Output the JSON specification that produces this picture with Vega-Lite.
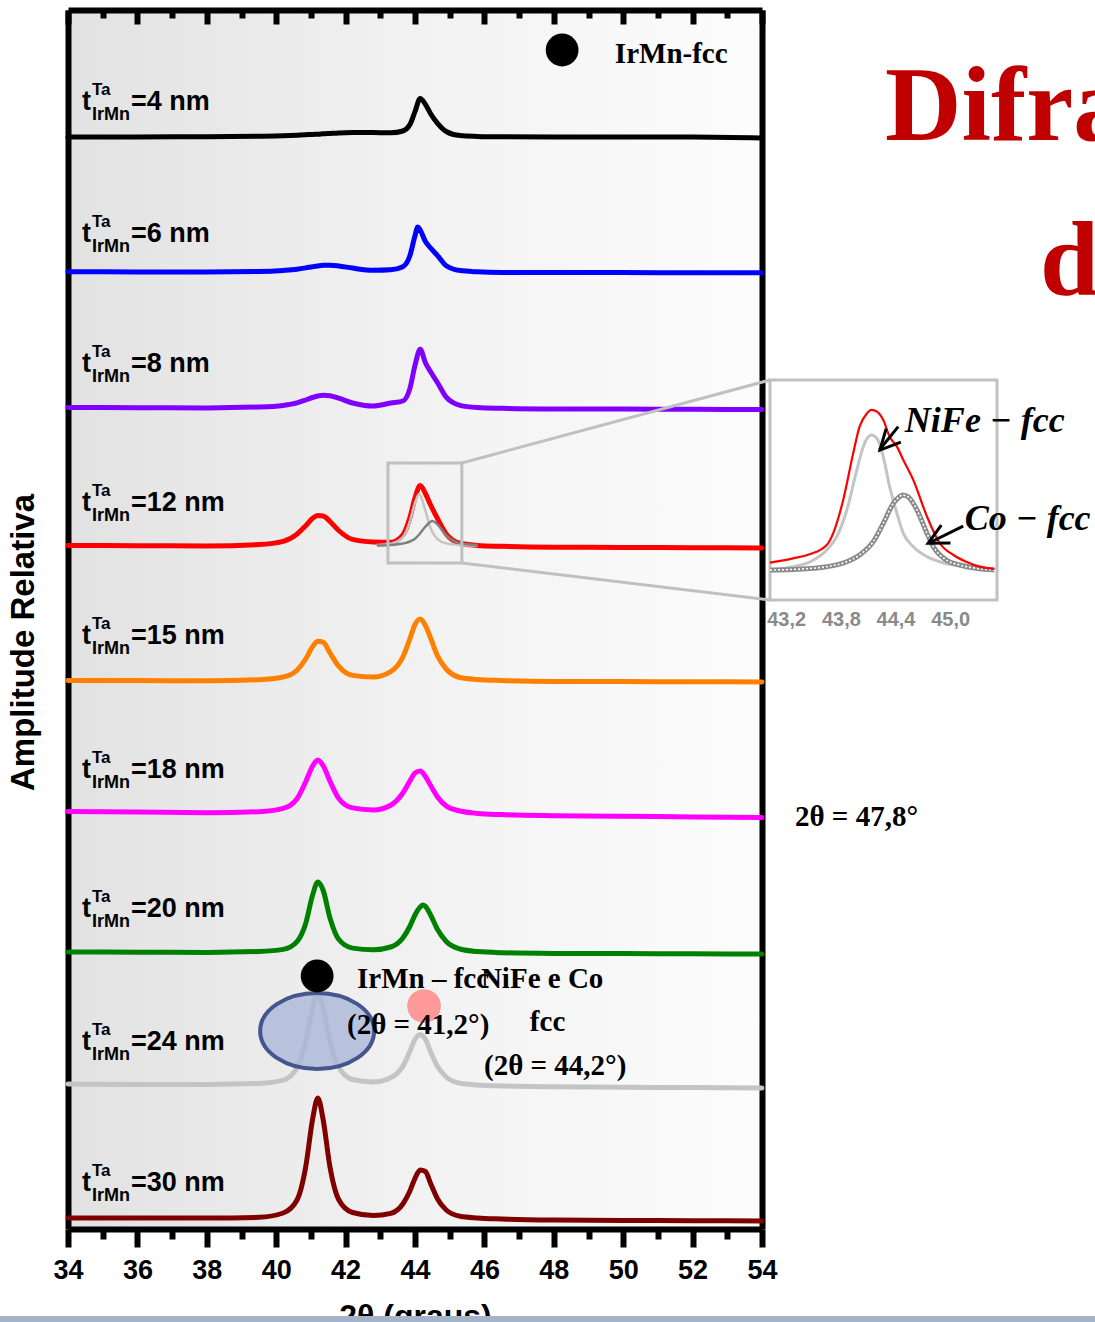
{
  "$schema": "https://vega.github.io/schema/vega-lite/v6.json",
  "width": 694,
  "height": 1219,
  "autosize": {"type": "none"},
  "padding": {"left": 68, "top": 10, "right": 333, "bottom": 93},
  "background": "#ffffff",
  "config": {
    "view": {"stroke": null, "fill": {"gradient": "linear", "x1": 0, "y1": 0, "x2": 1, "y2": 0, "stops": [{"offset": 0, "color": "#e2e2e2"}, {"offset": 0.55, "color": "#f3f3f3"}, {"offset": 1, "color": "#fcfcfc"}]}},
    "axis": {"grid": false}
  },
  "datasets": {
    "curves": [
      {"s":"4","x":34,"y":109.2},{"s":"4","x":36,"y":109.21},{"s":"4","x":38,"y":109.22},{"s":"4","x":39.5,"y":109.27},{"s":"4","x":40.2,"y":109.32},{"s":"4","x":40.6,"y":109.38},{"s":"4","x":40.85,"y":109.42},{"s":"4","x":41.05,"y":109.46},{"s":"4","x":41.2,"y":109.48},{"s":"4","x":41.35,"y":109.52},{"s":"4","x":41.55,"y":109.56},{"s":"4","x":41.8,"y":109.61},{"s":"4","x":42.2,"y":109.65},{"s":"4","x":42.8,"y":109.64},{"s":"4","x":43.3,"y":109.62},{"s":"4","x":43.65,"y":109.8},{"s":"4","x":43.85,"y":110.42},{"s":"4","x":44.0,"y":111.74},{"s":"4","x":44.15,"y":113.06},{"s":"4","x":44.3,"y":112.47},{"s":"4","x":44.45,"y":111.53},{"s":"4","x":44.65,"y":110.57},{"s":"4","x":44.9,"y":109.75},{"s":"4","x":45.3,"y":109.34},{"s":"4","x":45.8,"y":109.26},{"s":"4","x":46.5,"y":109.22},{"s":"4","x":48,"y":109.2},{"s":"4","x":50,"y":109.2},{"s":"4","x":52,"y":109.2},{"s":"4","x":54,"y":109.1},
      {"s":"6","x":34,"y":95.72},{"s":"6","x":36,"y":95.71},{"s":"6","x":38,"y":95.7},{"s":"6","x":39.5,"y":95.75},{"s":"6","x":40.2,"y":95.86},{"s":"6","x":40.6,"y":95.98},{"s":"6","x":40.85,"y":96.11},{"s":"6","x":41.05,"y":96.23},{"s":"6","x":41.2,"y":96.31},{"s":"6","x":41.35,"y":96.37},{"s":"6","x":41.55,"y":96.38},{"s":"6","x":41.8,"y":96.31},{"s":"6","x":42.2,"y":96.09},{"s":"6","x":42.8,"y":95.87},{"s":"6","x":43.3,"y":95.92},{"s":"6","x":43.65,"y":96.23},{"s":"6","x":43.85,"y":97.3},{"s":"6","x":44.0,"y":99.32},{"s":"6","x":44.08,"y":100.2},{"s":"6","x":44.15,"y":99.9},{"s":"6","x":44.3,"y":98.75},{"s":"6","x":44.45,"y":98.1},{"s":"6","x":44.65,"y":97.34},{"s":"6","x":44.9,"y":96.33},{"s":"6","x":45.3,"y":95.84},{"s":"6","x":45.8,"y":95.72},{"s":"6","x":46.5,"y":95.66},{"s":"6","x":48,"y":95.65},{"s":"6","x":50,"y":95.64},{"s":"6","x":52,"y":95.63},{"s":"6","x":54,"y":95.62},
      {"s":"8","x":34,"y":82.15},{"s":"8","x":36,"y":82.13},{"s":"8","x":38,"y":82.11},{"s":"8","x":39.5,"y":82.2},{"s":"8","x":40.2,"y":82.36},{"s":"8","x":40.6,"y":82.61},{"s":"8","x":40.85,"y":82.9},{"s":"8","x":41.05,"y":83.15},{"s":"8","x":41.2,"y":83.3},{"s":"8","x":41.35,"y":83.38},{"s":"8","x":41.55,"y":83.33},{"s":"8","x":41.8,"y":83.08},{"s":"8","x":42.2,"y":82.6},{"s":"8","x":42.8,"y":82.3},{"s":"8","x":43.3,"y":82.6},{"s":"8","x":43.65,"y":82.8},{"s":"8","x":43.85,"y":84.01},{"s":"8","x":44.0,"y":86.36},{"s":"8","x":44.15,"y":87.97},{"s":"8","x":44.3,"y":86.63},{"s":"8","x":44.45,"y":85.72},{"s":"8","x":44.65,"y":84.63},{"s":"8","x":44.9,"y":83.19},{"s":"8","x":45.3,"y":82.37},{"s":"8","x":45.8,"y":82.15},{"s":"8","x":46.5,"y":82.07},{"s":"8","x":48,"y":82.01},{"s":"8","x":50,"y":81.99},{"s":"8","x":52,"y":81.97},{"s":"8","x":54,"y":81.95},
      {"s":"12","x":34,"y":68.35},{"s":"12","x":36,"y":68.33},{"s":"12","x":38,"y":68.3},{"s":"12","x":39.5,"y":68.44},{"s":"12","x":40.2,"y":68.77},{"s":"12","x":40.6,"y":69.49},{"s":"12","x":40.85,"y":70.33},{"s":"12","x":41.05,"y":71.07},{"s":"12","x":41.2,"y":71.34},{"s":"12","x":41.35,"y":71.31},{"s":"12","x":41.55,"y":70.75},{"s":"12","x":41.8,"y":69.85},{"s":"12","x":42.2,"y":68.96},{"s":"12","x":42.8,"y":68.7},{"s":"12","x":43.3,"y":68.67},{"s":"12","x":43.65,"y":69.4},{"s":"12","x":43.85,"y":71.1},{"s":"12","x":44.0,"y":73.1},{"s":"12","x":44.15,"y":74.35},{"s":"12","x":44.3,"y":73.55},{"s":"12","x":44.45,"y":72.4},{"s":"12","x":44.65,"y":71.03},{"s":"12","x":44.9,"y":69.5},{"s":"12","x":45.3,"y":68.57},{"s":"12","x":45.8,"y":68.36},{"s":"12","x":46.5,"y":68.27},{"s":"12","x":48,"y":68.18},{"s":"12","x":50,"y":68.16},{"s":"12","x":52,"y":68.13},{"s":"12","x":54,"y":68.11},
      {"s":"15","x":34,"y":54.85},{"s":"15","x":36,"y":54.84},{"s":"15","x":38,"y":54.82},{"s":"15","x":39.5,"y":54.93},{"s":"15","x":40.2,"y":55.2},{"s":"15","x":40.6,"y":55.88},{"s":"15","x":40.85,"y":57.0},{"s":"15","x":41.05,"y":58.24},{"s":"15","x":41.2,"y":58.77},{"s":"15","x":41.35,"y":58.68},{"s":"15","x":41.55,"y":57.6},{"s":"15","x":41.8,"y":56.28},{"s":"15","x":42.2,"y":55.36},{"s":"15","x":42.8,"y":55.2},{"s":"15","x":43.3,"y":55.74},{"s":"15","x":43.65,"y":57.2},{"s":"15","x":43.85,"y":59.0},{"s":"15","x":44.0,"y":60.45},{"s":"15","x":44.15,"y":61.0},{"s":"15","x":44.3,"y":60.35},{"s":"15","x":44.45,"y":59.1},{"s":"15","x":44.65,"y":57.3},{"s":"15","x":44.9,"y":56.0},{"s":"15","x":45.3,"y":55.15},{"s":"15","x":45.8,"y":54.95},{"s":"15","x":46.5,"y":54.85},{"s":"15","x":48,"y":54.75},{"s":"15","x":50,"y":54.74},{"s":"15","x":52,"y":54.72},{"s":"15","x":54,"y":54.71},
      {"s":"18","x":34,"y":41.75},{"s":"18","x":36,"y":41.69},{"s":"18","x":38,"y":41.63},{"s":"18","x":39.5,"y":41.73},{"s":"18","x":40.2,"y":42.06},{"s":"18","x":40.6,"y":43.03},{"s":"18","x":40.85,"y":44.72},{"s":"18","x":41.05,"y":46.3},{"s":"18","x":41.2,"y":46.9},{"s":"18","x":41.35,"y":46.35},{"s":"18","x":41.55,"y":44.78},{"s":"18","x":41.8,"y":43.06},{"s":"18","x":42.2,"y":42.11},{"s":"18","x":42.8,"y":41.9},{"s":"18","x":43.3,"y":42.38},{"s":"18","x":43.65,"y":43.6},{"s":"18","x":43.85,"y":44.79},{"s":"18","x":44.0,"y":45.6},{"s":"18","x":44.15,"y":45.8},{"s":"18","x":44.3,"y":45.25},{"s":"18","x":44.45,"y":44.35},{"s":"18","x":44.65,"y":43.2},{"s":"18","x":44.9,"y":42.3},{"s":"18","x":45.3,"y":41.8},{"s":"18","x":45.8,"y":41.56},{"s":"18","x":46.5,"y":41.44},{"s":"18","x":48,"y":41.33},{"s":"18","x":50,"y":41.27},{"s":"18","x":52,"y":41.21},{"s":"18","x":54,"y":41.15},
      {"s":"20","x":34,"y":27.7},{"s":"20","x":36,"y":27.68},{"s":"20","x":38,"y":27.66},{"s":"20","x":39.5,"y":27.75},{"s":"20","x":40.2,"y":27.96},{"s":"20","x":40.6,"y":28.74},{"s":"20","x":40.85,"y":30.55},{"s":"20","x":41.05,"y":33.4},{"s":"20","x":41.2,"y":34.7},{"s":"20","x":41.35,"y":33.9},{"s":"20","x":41.55,"y":31.1},{"s":"20","x":41.8,"y":28.97},{"s":"20","x":42.2,"y":28.09},{"s":"20","x":42.8,"y":27.93},{"s":"20","x":43.3,"y":28.2},{"s":"20","x":43.65,"y":29.1},{"s":"20","x":43.85,"y":30.25},{"s":"20","x":44.0,"y":31.4},{"s":"20","x":44.15,"y":32.2},{"s":"20","x":44.23,"y":32.4},{"s":"20","x":44.3,"y":32.27},{"s":"20","x":44.45,"y":31.4},{"s":"20","x":44.65,"y":29.95},{"s":"20","x":44.9,"y":28.75},{"s":"20","x":45.3,"y":28.0},{"s":"20","x":45.8,"y":27.74},{"s":"20","x":46.5,"y":27.63},{"s":"20","x":48,"y":27.56},{"s":"20","x":50,"y":27.54},{"s":"20","x":52,"y":27.52},{"s":"20","x":54,"y":27.5},
      {"s":"24","x":34,"y":14.5},{"s":"24","x":36,"y":14.46},{"s":"24","x":38,"y":14.46},{"s":"24","x":39.5,"y":14.55},{"s":"24","x":40.2,"y":14.88},{"s":"24","x":40.6,"y":16.12},{"s":"24","x":40.85,"y":18.67},{"s":"24","x":41.05,"y":22.17},{"s":"24","x":41.2,"y":23.56},{"s":"24","x":41.35,"y":22.17},{"s":"24","x":41.55,"y":18.7},{"s":"24","x":41.8,"y":16.2},{"s":"24","x":42.2,"y":14.95},{"s":"24","x":42.8,"y":14.71},{"s":"24","x":43.3,"y":15.13},{"s":"24","x":43.65,"y":16.28},{"s":"24","x":43.85,"y":17.74},{"s":"24","x":44.0,"y":18.97},{"s":"24","x":44.15,"y":19.46},{"s":"24","x":44.3,"y":18.97},{"s":"24","x":44.45,"y":17.73},{"s":"24","x":44.65,"y":16.25},{"s":"24","x":44.9,"y":15.2},{"s":"24","x":45.3,"y":14.57},{"s":"24","x":45.8,"y":14.41},{"s":"24","x":46.5,"y":14.31},{"s":"24","x":48,"y":14.22},{"s":"24","x":50,"y":14.18},{"s":"24","x":52,"y":14.14},{"s":"24","x":54,"y":14.1},
      {"s":"30","x":34,"y":1.1},{"s":"30","x":36,"y":1.11},{"s":"30","x":38,"y":1.09},{"s":"30","x":39.5,"y":1.17},{"s":"30","x":40.2,"y":1.6},{"s":"30","x":40.6,"y":2.9},{"s":"30","x":40.85,"y":6.2},{"s":"30","x":41.05,"y":11.0},{"s":"30","x":41.2,"y":13.1},{"s":"30","x":41.35,"y":11.0},{"s":"30","x":41.55,"y":6.2},{"s":"30","x":41.8,"y":2.95},{"s":"30","x":42.2,"y":1.65},{"s":"30","x":42.8,"y":1.35},{"s":"30","x":43.3,"y":1.56},{"s":"30","x":43.65,"y":2.5},{"s":"30","x":43.85,"y":3.77},{"s":"30","x":44.0,"y":5.07},{"s":"30","x":44.15,"y":5.9},{"s":"30","x":44.3,"y":5.75},{"s":"30","x":44.45,"y":4.55},{"s":"30","x":44.65,"y":3.0},{"s":"30","x":44.9,"y":1.9},{"s":"30","x":45.3,"y":1.27},{"s":"30","x":45.8,"y":1.1},{"s":"30","x":46.5,"y":1.0},{"s":"30","x":48,"y":0.9},{"s":"30","x":50,"y":0.86},{"s":"30","x":52,"y":0.83},{"s":"30","x":54,"y":0.8}
    ],
    "fits": [
      {"c":"NiFe","x":42.9,"y":68.4},{"c":"NiFe","x":43.3,"y":68.53},{"c":"NiFe","x":43.65,"y":69.18},{"c":"NiFe","x":43.85,"y":70.74},{"c":"NiFe","x":44.0,"y":72.62},{"c":"NiFe","x":44.12,"y":73.5},{"c":"NiFe","x":44.3,"y":71.84},{"c":"NiFe","x":44.45,"y":70.07},{"c":"NiFe","x":44.65,"y":68.98},{"c":"NiFe","x":44.9,"y":68.56},{"c":"NiFe","x":45.3,"y":68.4},{"c":"NiFe","x":45.8,"y":68.35},
      {"c":"Co","x":42.9,"y":68.35},{"c":"Co","x":43.3,"y":68.4},{"c":"Co","x":43.65,"y":68.55},{"c":"Co","x":43.85,"y":68.75},{"c":"Co","x":44.0,"y":69.03},{"c":"Co","x":44.12,"y":69.45},{"c":"Co","x":44.3,"y":70.23},{"c":"Co","x":44.5,"y":70.8},{"c":"Co","x":44.65,"y":70.45},{"c":"Co","x":44.9,"y":69.35},{"c":"Co","x":45.3,"y":68.57},{"c":"Co","x":45.8,"y":68.39}
    ],
    "labels": [
      {"lab":"=4 nm","ly":111.9},{"lab":"=6 nm","ly":98.7},{"lab":"=8 nm","ly":85.7},{"lab":"=12 nm","ly":71.8},{"lab":"=15 nm","ly":58.5},{"lab":"=18 nm","ly":45.1},{"lab":"=20 nm","ly":31.2},{"lab":"=24 nm","ly":17.9},{"lab":"=30 nm","ly":3.8}
    ],
    "connectors": [
      {"x":45.35,"y":76.6,"x2":54.23,"y2":84.9},{"x":45.35,"y":66.6,"x2":54.23,"y2":62.9}
    ],
    "dots": [{"x":48.24,"y":117.9},{"x":41.18,"y":25.3}],
    "notes": [
      {"txt":"IrMn-fcc","x":49.76,"y":116.6},
      {"txt":"IrMn – fcc","x":42.33,"y":24.1},
      {"txt":"NiFe e Co","x":45.9,"y":24.1},
      {"txt":"(2θ = 41,2°)","x":42.04,"y":19.5},
      {"txt":"fcc","x":47.31,"y":19.8},
      {"txt":"(2θ = 44,2°)","x":45.99,"y":15.4},
      {"txt":"2θ = 47,8°","x":54.95,"y":40.3}
    ],
    "titles": [
      {"txt":"Difração","x":57.545,"y":108.9},
      {"txt":"de","x":62.01,"y":93.4}
    ],
    "ired": [
      {"x":43.017,"y":16.97},{"x":43.27,"y":18.94},{"x":43.46,"y":20.9},{"x":43.64,"y":25.0},{"x":43.71,"y":30.3},{"x":43.82,"y":45.45},{"x":43.93,"y":66.7},{"x":44.0,"y":78.8},{"x":44.08,"y":84.8},{"x":44.13,"y":86.4},{"x":44.19,"y":85.6},{"x":44.26,"y":81.8},{"x":44.33,"y":74.2},{"x":44.41,"y":69.7},{"x":44.48,"y":63.6},{"x":44.59,"y":54.5},{"x":44.74,"y":37.9},{"x":44.88,"y":25.8},{"x":45.03,"y":20.45},{"x":45.17,"y":17.4},{"x":45.32,"y":15.15},{"x":45.48,"y":14.1}
    ],
    "inife": [
      {"x":43.017,"y":13.6},{"x":43.27,"y":15.15},{"x":43.46,"y":17.4},{"x":43.64,"y":22.7},{"x":43.75,"y":28.8},{"x":43.86,"y":40.9},{"x":43.97,"y":59.1},{"x":44.04,"y":69.7},{"x":44.13,"y":75.0},{"x":44.19,"y":73.5},{"x":44.26,"y":65.2},{"x":44.33,"y":51.5},{"x":44.41,"y":39.4},{"x":44.48,"y":30.3},{"x":44.59,"y":24.2},{"x":44.74,"y":19.7},{"x":44.88,"y":17.4},{"x":45.03,"y":15.9},{"x":45.25,"y":14.8},{"x":45.48,"y":14.1}
    ],
    "ico": [
      {"x":43.017,"y":13.6},{"x":43.27,"y":13.9},{"x":43.64,"y":15.15},{"x":43.86,"y":17.4},{"x":44.0,"y":20.45},{"x":44.15,"y":26.5},{"x":44.26,"y":34.8},{"x":44.37,"y":43.9},{"x":44.44,"y":47.0},{"x":44.47,"y":47.7},{"x":44.53,"y":47.0},{"x":44.63,"y":40.9},{"x":44.74,"y":30.3},{"x":44.81,"y":24.2},{"x":44.95,"y":18.2},{"x":45.1,"y":15.9},{"x":45.28,"y":14.4},{"x":45.48,"y":13.6}
    ],
    "iticks": [
      {"v":43.2,"lab":"43,2"},{"v":43.8,"lab":"43,8"},{"v":44.4,"lab":"44,4"},{"v":45.0,"lab":"45,0"}
    ],
    "arrows": [
      {"x":44.424,"y":78.8,"x2":44.217,"y2":68.2},{"x":45.137,"y":33.6,"x2":44.755,"y2":25.8}
    ]
  },
  "layer": [
    {
      "layer": [
        {
          "data": {"name": "curves"},
          "mark": {"type": "line", "strokeWidth": 5, "interpolate": "monotone", "strokeCap": "round", "strokeJoin": "round"},
          "encoding": {
            "x": {"field": "x", "type": "quantitative", "scale": {"domain": [34, 54], "nice": false, "zero": false},
              "axis": {"orient": "bottom", "values": [34,36,38,40,42,44,46,48,50,52,54], "tickSize": 18, "tickWidth": 6, "tickColor": "#000000", "domainWidth": 6, "domainColor": "#000000", "labelFont": "Liberation Sans", "labelFontWeight": "bold", "labelFontSize": 27, "labelColor": "#000000", "labelPadding": 10, "labelFlush": false, "labelOverlap": false, "title": "2θ (graus)", "titleFont": "Liberation Sans", "titleFontWeight": "bold", "titleFontSize": 32, "titleColor": "#000000", "titlePadding": 18}},
            "y": {"field": "y", "type": "quantitative", "scale": {"domain": [0, 121.9], "nice": false, "zero": false},
              "axis": {"orient": "left", "ticks": false, "labels": false, "domainWidth": 6, "domainColor": "#000000", "title": "Amplitude Relativa", "titleFont": "Liberation Sans", "titleFontWeight": "bold", "titleFontSize": 33, "titleColor": "#000000", "titlePadding": 28, "titleY": 632}},
            "color": {"field": "s", "type": "nominal", "scale": {"domain": ["4","6","8","12","15","18","20","24","30"], "range": ["#000000","#0000ff","#8000ff","#ff0000","#ff8000","#ff00ff","#008000","#c4c4c4","#800000"]}, "legend": null}
          }
        },
        {
          "data": {"name": "fits"},
          "mark": {"type": "line", "strokeWidth": 2.5, "interpolate": "monotone"},
          "encoding": {
            "x": {"field": "x", "type": "quantitative", "scale": {"domain": [34, 54], "nice": false, "zero": false},
              "axis": {"orient": "top", "values": [34,36,38,40,42,44,46,48,50,52,54], "tickSize": -14, "tickWidth": 6, "tickColor": "#000000", "domainWidth": 6, "domainColor": "#000000", "labels": false, "title": null}},
            "y": {"field": "y", "type": "quantitative", "scale": {"domain": [0, 121.9], "nice": false, "zero": false},
              "axis": {"orient": "right", "ticks": false, "labels": false, "domainWidth": 6, "domainColor": "#000000", "title": null}},
            "color": {"field": "c", "type": "nominal", "scale": {"domain": ["NiFe","Co"], "range": ["#c4c4c4","#808080"]}, "legend": null}
          }
        },
        {
          "data": {"values": [{}]},
          "mark": {"type": "rect", "fillOpacity": 0, "fill": "#ffffff", "stroke": "#c0c0c0", "strokeWidth": 3},
          "encoding": {
            "x": {"datum": 43.22, "type": "quantitative", "scale": {"domain": [34, 54], "nice": false, "zero": false}, "axis": null},
            "x2": {"datum": 45.35},
            "y": {"datum": 76.6, "type": "quantitative", "scale": {"domain": [0, 121.9], "nice": false, "zero": false}, "axis": null},
            "y2": {"datum": 66.6}
          }
        },
        {
          "data": {"name": "connectors"},
          "mark": {"type": "rule", "stroke": "#c0c0c0", "strokeWidth": 3},
          "encoding": {
            "x": {"field": "x", "type": "quantitative", "scale": {"domain": [34, 54], "nice": false, "zero": false},
              "axis": {"orient": "bottom", "values": [35,37,39,41,43,45,47,49,51,53], "tickSize": 10, "tickWidth": 6, "tickColor": "#000000", "domain": false, "labels": false, "title": null}},
            "x2": {"field": "x2"},
            "y": {"field": "y", "type": "quantitative", "scale": {"domain": [0, 121.9], "nice": false, "zero": false}, "axis": null},
            "y2": {"field": "y2"}
          }
        },
        {
          "data": {"values": [{}]},
          "mark": {"type": "point", "shape": "M-1,0A1,0.667,0,1,0,1,0A1,0.667,0,1,0,-1,0Z", "size": 12996, "filled": true, "fill": "#a9b6d8", "fillOpacity": 0.78, "stroke": "#44558f", "strokeWidth": 4, "strokeOpacity": 1},
          "encoding": {
            "x": {"datum": 41.18, "type": "quantitative", "scale": {"domain": [34, 54], "nice": false, "zero": false}, "axis": null},
            "y": {"datum": 19.8, "type": "quantitative", "scale": {"domain": [0, 121.9], "nice": false, "zero": false}, "axis": null}
          }
        },
        {
          "data": {"values": [{}]},
          "mark": {"type": "point", "shape": "circle", "size": 1134, "filled": true, "fill": "#ff8f8f", "opacity": 0.9, "strokeWidth": 0},
          "encoding": {
            "x": {"datum": 44.26, "type": "quantitative", "scale": {"domain": [34, 54], "nice": false, "zero": false}, "axis": null},
            "y": {"datum": 22.3, "type": "quantitative", "scale": {"domain": [0, 121.9], "nice": false, "zero": false}, "axis": null}
          }
        },
        {
          "data": {"name": "dots"},
          "mark": {"type": "point", "shape": "circle", "size": 1075, "filled": true, "fill": "#000000", "opacity": 1, "strokeWidth": 0},
          "encoding": {
            "x": {"field": "x", "type": "quantitative", "scale": {"domain": [34, 54], "nice": false, "zero": false}, "axis": null},
            "y": {"field": "y", "type": "quantitative", "scale": {"domain": [0, 121.9], "nice": false, "zero": false}, "axis": null}
          }
        },
        {
          "data": {"name": "notes"},
          "mark": {"type": "text", "align": "left", "baseline": "alphabetic", "font": "Liberation Serif", "fontWeight": "bold", "fontSize": 29, "color": "#000000"},
          "encoding": {
            "x": {"field": "x", "type": "quantitative", "scale": {"domain": [34, 54], "nice": false, "zero": false},
              "axis": {"orient": "top", "values": [35,37,39,41,43,45,47,49,51,53], "tickSize": -8, "tickWidth": 6, "tickColor": "#000000", "domain": false, "labels": false, "title": null}},
            "y": {"field": "y", "type": "quantitative", "scale": {"domain": [0, 121.9], "nice": false, "zero": false}, "axis": null},
            "text": {"field": "txt"}
          }
        },
        {
          "data": {"name": "titles"},
          "mark": {"type": "text", "align": "left", "baseline": "alphabetic", "font": "Liberation Serif", "fontWeight": "bold", "fontSize": 106, "color": "#c00000"},
          "encoding": {
            "x": {"field": "x", "type": "quantitative", "scale": {"domain": [34, 54], "nice": false, "zero": false}, "axis": null},
            "y": {"field": "y", "type": "quantitative", "scale": {"domain": [0, 121.9], "nice": false, "zero": false}, "axis": null},
            "text": {"field": "txt"}
          }
        },
        {
          "data": {"name": "labels"},
          "mark": {"type": "text", "text": "t", "align": "left", "baseline": "alphabetic", "font": "Liberation Sans", "fontWeight": "bold", "fontSize": 27, "color": "#000000"},
          "encoding": {
            "x": {"datum": 34.4, "type": "quantitative", "scale": {"domain": [34, 54], "nice": false, "zero": false}, "axis": null},
            "y": {"field": "ly", "type": "quantitative", "scale": {"domain": [0, 121.9], "nice": false, "zero": false}, "axis": null}
          }
        },
        {
          "data": {"name": "labels"},
          "mark": {"type": "text", "text": "Ta", "align": "left", "baseline": "alphabetic", "font": "Liberation Sans", "fontWeight": "bold", "fontSize": 17, "dx": 10, "dy": -15, "color": "#000000"},
          "encoding": {
            "x": {"datum": 34.4, "type": "quantitative", "scale": {"domain": [34, 54], "nice": false, "zero": false}, "axis": null},
            "y": {"field": "ly", "type": "quantitative", "scale": {"domain": [0, 121.9], "nice": false, "zero": false}, "axis": null}
          }
        },
        {
          "data": {"name": "labels"},
          "mark": {"type": "text", "text": "IrMn", "align": "left", "baseline": "alphabetic", "font": "Liberation Sans", "fontWeight": "bold", "fontSize": 18, "dx": 10, "dy": 10, "color": "#000000"},
          "encoding": {
            "x": {"datum": 34.4, "type": "quantitative", "scale": {"domain": [34, 54], "nice": false, "zero": false}, "axis": null},
            "y": {"field": "ly", "type": "quantitative", "scale": {"domain": [0, 121.9], "nice": false, "zero": false}, "axis": null}
          }
        },
        {
          "data": {"name": "labels"},
          "mark": {"type": "text", "align": "left", "baseline": "alphabetic", "font": "Liberation Sans", "fontWeight": "bold", "fontSize": 27, "dx": 49, "color": "#000000"},
          "encoding": {
            "x": {"datum": 34.4, "type": "quantitative", "scale": {"domain": [34, 54], "nice": false, "zero": false}, "axis": null},
            "y": {"field": "ly", "type": "quantitative", "scale": {"domain": [0, 121.9], "nice": false, "zero": false}, "axis": null},
            "text": {"field": "lab"}
          }
        },
        {
          "data": {"values": [{}]},
          "mark": {"type": "rect", "fill": "#a3b3c9"},
          "encoding": {
            "x": {"datum": 32.0, "type": "quantitative", "scale": {"domain": [34, 54], "nice": false, "zero": false}, "axis": null},
            "x2": {"datum": 63.7},
            "y": {"datum": -8.7, "type": "quantitative", "scale": {"domain": [0, 121.9], "nice": false, "zero": false}, "axis": null},
            "y2": {"datum": -9.6}
          }
        }
      ],
      "resolve": {"axis": {"x": "independent", "y": "independent"}, "scale": {"color": "independent"}}
    },
    {
      "layer": [
        {
          "data": {"values": [{}]},
          "mark": {"type": "rect", "fillOpacity": 0, "fill": "#ffffff", "stroke": "#c0c0c0", "strokeWidth": 3},
          "encoding": {
            "x": {"datum": 43.017, "type": "quantitative", "scale": {"domain": [43.017, 45.508], "range": [702, 929], "nice": false, "zero": false}, "axis": null},
            "x2": {"datum": 45.508},
            "y": {"datum": 0, "type": "quantitative", "scale": {"domain": [0, 100], "range": [590, 370], "nice": false, "zero": false}, "axis": null},
            "y2": {"datum": 100}
          }
        },
        {
          "data": {"name": "inife"},
          "mark": {"type": "line", "stroke": "#c4c4c4", "strokeWidth": 3, "interpolate": "monotone"},
          "encoding": {
            "x": {"field": "x", "type": "quantitative", "scale": {"domain": [43.017, 45.508], "range": [702, 929], "nice": false, "zero": false}, "axis": null},
            "y": {"field": "y", "type": "quantitative", "scale": {"domain": [0, 100], "range": [590, 370], "nice": false, "zero": false}, "axis": null}
          }
        },
        {
          "data": {"name": "ico"},
          "mark": {"type": "line", "stroke": "#8a8a8a", "strokeWidth": 5, "interpolate": "monotone"},
          "encoding": {
            "x": {"field": "x", "type": "quantitative", "scale": {"domain": [43.017, 45.508], "range": [702, 929], "nice": false, "zero": false}, "axis": null},
            "y": {"field": "y", "type": "quantitative", "scale": {"domain": [0, 100], "range": [590, 370], "nice": false, "zero": false}, "axis": null}
          }
        },
        {
          "data": {"name": "ico"},
          "mark": {"type": "line", "stroke": "#ffffff", "strokeWidth": 1.6, "strokeDash": [2, 2], "interpolate": "monotone"},
          "encoding": {
            "x": {"field": "x", "type": "quantitative", "scale": {"domain": [43.017, 45.508], "range": [702, 929], "nice": false, "zero": false}, "axis": null},
            "y": {"field": "y", "type": "quantitative", "scale": {"domain": [0, 100], "range": [590, 370], "nice": false, "zero": false}, "axis": null}
          }
        },
        {
          "data": {"name": "ired"},
          "mark": {"type": "line", "stroke": "#ff0000", "strokeWidth": 2.2, "interpolate": "monotone"},
          "encoding": {
            "x": {"field": "x", "type": "quantitative", "scale": {"domain": [43.017, 45.508], "range": [702, 929], "nice": false, "zero": false}, "axis": null},
            "y": {"field": "y", "type": "quantitative", "scale": {"domain": [0, 100], "range": [590, 370], "nice": false, "zero": false}, "axis": null}
          }
        },
        {
          "data": {"name": "iticks"},
          "mark": {"type": "text", "align": "center", "baseline": "middle", "font": "Liberation Sans", "fontWeight": "bold", "fontSize": 20, "color": "#8a8a8a"},
          "encoding": {
            "x": {"field": "v", "type": "quantitative", "scale": {"domain": [43.017, 45.508], "range": [702, 929], "nice": false, "zero": false}, "axis": null},
            "y": {"datum": -9.1, "type": "quantitative", "scale": {"domain": [0, 100], "range": [590, 370], "nice": false, "zero": false}, "axis": null},
            "text": {"field": "lab"}
          }
        },
        {
          "data": {"name": "arrows"},
          "mark": {"type": "rule", "stroke": "#000000", "strokeWidth": 3},
          "encoding": {
            "x": {"field": "x", "type": "quantitative", "scale": {"domain": [43.017, 45.508], "range": [702, 929], "nice": false, "zero": false}, "axis": null},
            "x2": {"field": "x2"},
            "y": {"field": "y", "type": "quantitative", "scale": {"domain": [0, 100], "range": [590, 370], "nice": false, "zero": false}, "axis": null},
            "y2": {"field": "y2"}
          }
        },
        {
          "data": {"values": [{}]},
          "mark": {"type": "point", "shape": "M-1,1L0,-1L1,1", "size": 400, "filled": false, "stroke": "#000000", "strokeWidth": 3, "opacity": 1, "angle": 222.6},
          "encoding": {
            "x": {"datum": 44.298, "type": "quantitative", "scale": {"domain": [43.017, 45.508], "range": [702, 929], "nice": false, "zero": false}, "axis": null},
            "y": {"datum": 71.5, "type": "quantitative", "scale": {"domain": [0, 100], "range": [590, 370], "nice": false, "zero": false}, "axis": null}
          }
        },
        {
          "data": {"values": [{}]},
          "mark": {"type": "point", "shape": "M-1,1L0,-1L1,1", "size": 400, "filled": false, "stroke": "#000000", "strokeWidth": 3, "opacity": 1, "angle": 242.7},
          "encoding": {
            "x": {"datum": 44.85, "type": "quantitative", "scale": {"domain": [43.017, 45.508], "range": [702, 929], "nice": false, "zero": false}, "axis": null},
            "y": {"datum": 27.9, "type": "quantitative", "scale": {"domain": [0, 100], "range": [590, 370], "nice": false, "zero": false}, "axis": null}
          }
        },
        {
          "data": {"values": [{"txt": "NiFe − fcc", "x": 44.497, "y": 76.4}, {"txt": "Co − fcc", "x": 45.155, "y": 31.8}]},
          "mark": {"type": "text", "align": "left", "baseline": "alphabetic", "font": "Liberation Serif", "fontWeight": "bold", "fontStyle": "italic", "fontSize": 36, "color": "#000000"},
          "encoding": {
            "x": {"field": "x", "type": "quantitative", "scale": {"domain": [43.017, 45.508], "range": [702, 929], "nice": false, "zero": false}, "axis": null},
            "y": {"field": "y", "type": "quantitative", "scale": {"domain": [0, 100], "range": [590, 370], "nice": false, "zero": false}, "axis": null},
            "text": {"field": "txt"}
          }
        }
      ]
    }
  ],
  "resolve": {"scale": {"x": "independent", "y": "independent"}}
}
